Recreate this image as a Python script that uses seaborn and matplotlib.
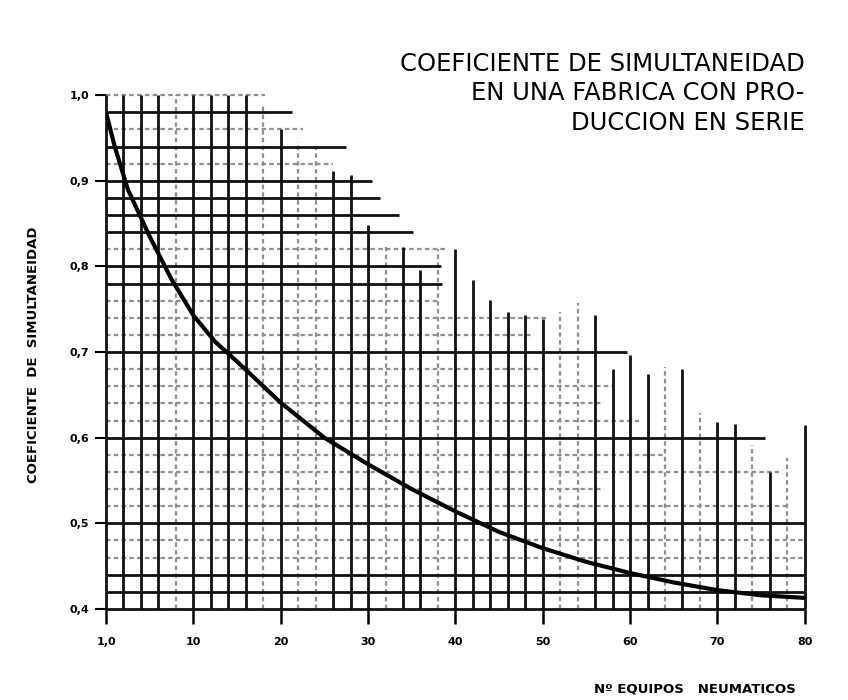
import numpy as np
import pandas as pd
import matplotlib
matplotlib.use("Agg")
import matplotlib.pyplot as plt
import seaborn as sns

# Curve
n_equipos = [0, 1, 2.5, 5, 7.5, 10, 12.5, 15, 20, 25, 30, 35, 40, 45, 50, 55, 60, 65, 70, 75, 80]
coeficiente = [0.98, 0.94, 0.89, 0.835, 0.785, 0.743, 0.712, 0.689, 0.641, 0.600, 0.569, 0.540,
               0.514, 0.490, 0.471, 0.455, 0.442, 0.431, 0.422, 0.416, 0.413]

# Vertical grid lines (x position, top end, dark=1 / faint=0)
v_x = [0, 2, 4, 6, 8, 10, 12, 14, 16, 18, 20, 22, 24, 26, 28, 30, 32, 34, 36, 38, 40,
       42, 44, 46, 48, 50, 52, 54, 56, 58, 60, 62, 64, 66, 68, 70, 72, 74, 76, 78, 80]
v_top = [1.0, 1.0, 1.0, 1.0, 1.0, 1.0, 1.0, 1.0, 1.0, 0.99, 0.96, 0.945, 0.94, 0.912, 0.907,
         0.848, 0.823, 0.823, 0.796, 0.82, 0.82, 0.784, 0.761, 0.747, 0.743, 0.739, 0.747,
         0.757, 0.743, 0.68, 0.697, 0.675, 0.683, 0.68, 0.629, 0.618, 0.616, 0.592, 0.56,
         0.576, 0.615]
v_dark = [1, 1, 1, 1, 0, 1, 1, 1, 1, 0, 1, 0, 0, 1, 1, 1, 0, 1, 1, 0, 1,
          1, 1, 1, 1, 1, 0, 0, 1, 1, 1, 1, 0, 1, 0, 1, 1, 0, 1, 0, 1]

# Horizontal grid lines (level, right end, dark=1 / faint=0)
h_y = [0.40, 0.42, 0.44, 0.46, 0.48, 0.50, 0.52, 0.54, 0.56, 0.58, 0.60, 0.62, 0.64, 0.66,
       0.68, 0.70, 0.72, 0.74, 0.76, 0.78, 0.80, 0.82, 0.84, 0.86, 0.88, 0.90, 0.92, 0.94,
       0.96, 0.98, 1.00]
h_end = [80, 80, 80, 80, 80, 80, 78, 57, 77, 64, 75.4, 61, 57, 58, 50, 59.7, 49, 50.4, 38,
         38.5, 38.4, 39, 35.1, 33.6, 31.4, 30.4, 26, 27.5, 22.5, 21.3, 18.2]
h_dark = [1, 1, 1, 0, 0, 1, 0, 0, 0, 0, 1, 0, 0, 0, 0, 1, 0, 0, 0, 1, 1, 0, 1, 1, 1, 1, 0, 1,
          0, 1, 0]

x_ticks = [0, 10, 20, 30, 40, 50, 60, 70, 80]
x_labels = ["1,0", "10", "20", "30", "40", "50", "60", "70", "80"]
y_ticks = [0.4, 0.5, 0.6, 0.7, 0.8, 0.9, 1.0]
y_labels = ["0,4", "0,5", "0,6", "0,7", "0,8", "0,9", "1,0"]

sns.set_theme(style="white")
plt.rcParams['font.family'] = ['DejaVu Sans']
plt.rcParams['text.color'] = 'black'
plt.rcParams['xtick.labelcolor'] = 'black'
plt.rcParams['ytick.labelcolor'] = 'black'

fig = plt.figure(figsize=(8.48, 7.0), dpi=100)
ax = fig.add_axes([0.125, 0.130, 0.824, 0.734])

grid = pd.DataFrame({"x": v_x, "top": v_top, "dark": v_dark})
hgrid = pd.DataFrame({"y": h_y, "end": h_end, "dark": h_dark})

faint = dict(colors="#8f8f8f", linewidth=1.6, linestyles=(0, (2, 1.5)), clip_on=False, zorder=1)
strong = dict(colors="#111111", linewidth=2.0, clip_on=False, zorder=2)

d = grid[grid.dark == 1]
f = grid[grid.dark == 0]
ax.vlines(f.x, 0.4, f.top, **faint)
ax.vlines(d.x, 0.4, d.top, **strong)

d = hgrid[hgrid.dark == 1]
f = hgrid[hgrid.dark == 0]
ax.hlines(f.y, 0, f.end, **faint)
ax.hlines(d.y, 0, d.end, **strong)

df = pd.DataFrame({"n": n_equipos, "c": coeficiente})
sns.lineplot(data=df, x="n", y="c", ax=ax, color="black", linewidth=3.0, zorder=5)

ax.set_xlim(0, 80)
ax.set_ylim(0.4, 1.0)
for s in ax.spines.values():
    s.set_visible(False)
ax.set_xticks(x_ticks)
ax.set_xticklabels(x_labels)
ax.set_yticks(y_ticks)
ax.set_yticklabels(y_labels)
ax.tick_params(axis="x", direction="out", length=11, width=1.8, color="black",
               labelsize=8, pad=9, bottom=True, labelcolor="black")
ax.tick_params(axis="y", direction="out", length=8, width=1.5, color="black",
               labelsize=8, pad=4, left=True, labelcolor="black")
for lab in ax.get_xticklabels() + ax.get_yticklabels():
    lab.set_fontweight("bold")
ax.set_xlabel("")
ax.set_ylabel("")

fig.text(0.039, 0.493, "COEFICIENTE  DE  SIMULTANEIDAD", rotation=90, ha="center", va="center",
         fontsize=9.5, fontweight="bold", color="black")
fig.text(0.938, 0.015, "Nº EQUIPOS   NEUMATICOS", ha="right", va="center",
         fontsize=9.5, fontweight="bold", color="black")
fig.text(0.949, 0.926, "COEFICIENTE DE SIMULTANEIDAD\nEN UNA FABRICA CON PRO-\nDUCCION EN SERIE",
         ha="right", va="top", fontsize=17.5, linespacing=1.3, color="black")

fig.savefig("out.png", dpi=100, facecolor="white")
